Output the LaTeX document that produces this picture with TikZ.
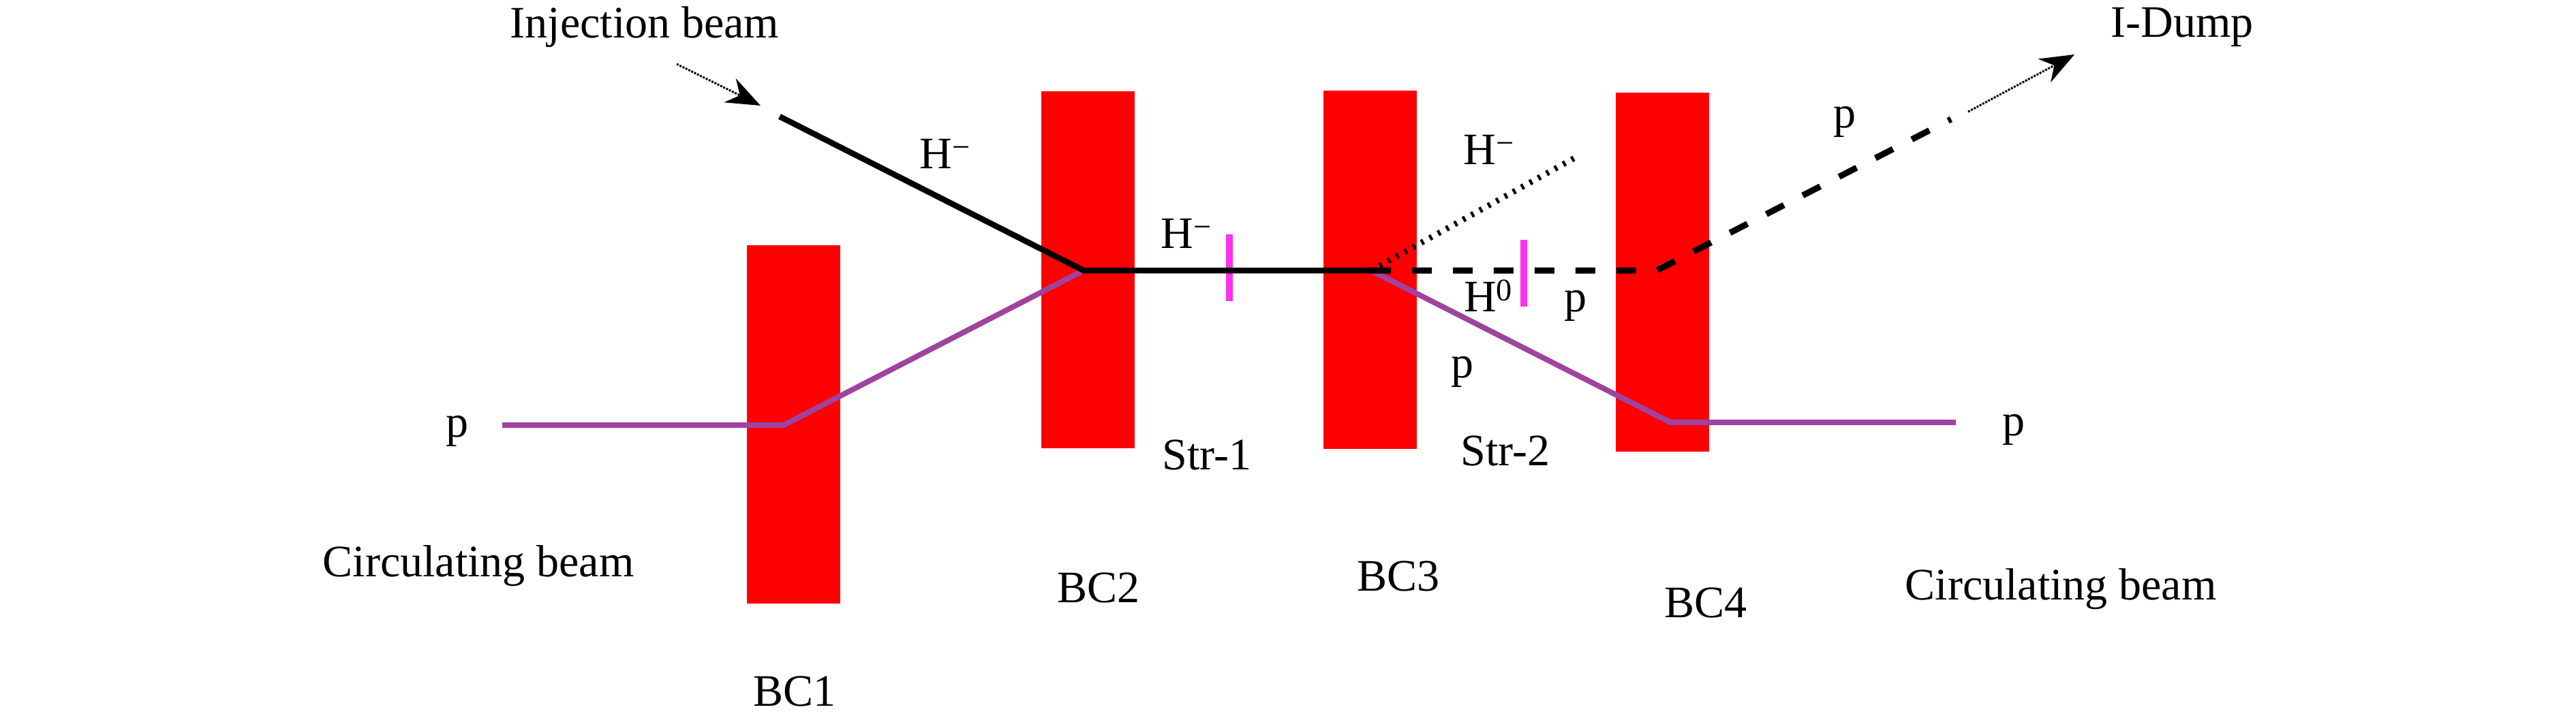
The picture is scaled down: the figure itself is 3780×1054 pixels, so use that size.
\documentclass[tikz,border=0pt]{standalone}
\usepackage{fontspec}
\setmainfont{Liberation Serif}
\usetikzlibrary{arrows.meta,positioning}
\definecolor{beampurple}{HTML}{A0429F}
\definecolor{foilpink}{HTML}{FF30F0}

\begin{document}
\begin{tikzpicture}[x=0.02cm, y=-0.02cm,
    magnet/.style={rectangle, fill=red, inner sep=0pt, minimum width=2.74cm},
    foil/.style={rectangle, fill=foilpink, inner sep=0pt, minimum width=0.2cm, minimum height=1.95cm},
    label/.style={font=\fontsize{37.6}{45}\selectfont, inner sep=0pt},
    hminus/.style={line width=0.17cm, black, line join=round},
    proton/.style={line width=0.16cm, beampurple, line join=round},
    neutral/.style={line width=0.18cm, black, dash pattern=on 0.58cm off 0.62cm},
    stripped/.style={line width=0.17cm, black, dash pattern=on 0.08cm off 0.2cm},
    pointer/.style={-{Stealth[length=1.0cm, width=0.78cm]}, line width=0.06cm, densely dotted}]

    \useasboundingbox (0,0) rectangle (3780,1054);

    \node[magnet, minimum height=10.52cm] (bc1) at (1164,623) {};
    \node[magnet, minimum height=10.5cm] (bc2) at (1596.5,396) {};
    \node[magnet, minimum height=10.52cm] (bc3) at (2010,396) {};
    \node[magnet, minimum height=10.54cm] (bc4) at (2439,399.5) {};

    \coordinate (inj) at (1144,171);
    \coordinate (merge) at (1590,397);
    \coordinate (strip) at (2012,397);
    \coordinate (leftin) at (737,624);
    \coordinate (leftkink) at (1150,624);
    \coordinate (rightkink) at (2451,620);
    \coordinate (rightout) at (2870,620);
    \coordinate (dumpkink) at (2431,397);
    \coordinate (dumpend) at (2863,175);
    \coordinate (unstrip) at (2312,231);

    \node[foil] (str1) at (1804,393) {};
    \node[foil] (str2) at (2236,401) {};

    \draw[proton] (leftin) -- (leftkink) -- (merge);
    \draw[proton] (strip) -- (rightkink) -- (rightout);
    \draw[hminus] (inj) -- (merge) -- (strip);
    \draw[neutral] (strip) -- (dumpkink) -- (dumpend);
    \draw[stripped] (strip) -- (unstrip);

    % labels
    \node[label] (injlabel) at (946,40) {Injection beam};
    \node[label] (dumplabel) at (3202,40) {I-Dump};
    \coordinate (injtail) at (993,94);
    \coordinate (injhead) at (1116,155);
    \coordinate (dumptail) at (2888,164);
    \coordinate (dumphead) at (3044,80);
    \draw[pointer] (injtail) -- (injhead);
    \draw[pointer] (dumptail) -- (dumphead);

    \node[label] (hm1) at (1387,226) {H\textsuperscript{−}};
    \node[label] (hm2) at (1741,343) {H\textsuperscript{−}};
    \node[label] (hm3) at (2185,220) {H\textsuperscript{−}};
    \node[label] (h0) at (2184,434) {H\textsuperscript{0}};
    \node[label] (p1) at (671,633) {p};
    \node[label] (p2) at (2146,546) {p};
    \node[label] (p3) at (2312,449) {p};
    \node[label] (p4) at (2707,179) {p};
    \node[label] (p5) at (2955,631) {p};
    \node[label] (strlabel1) at (1771,668) {Str-1};
    \node[label] (strlabel2) at (2209,662) {Str-2};
    \node[label] (bclabel1) at (1166,1015) {BC1};
    \node[label] (bclabel2) at (1612,863) {BC2};
    \node[label] (bclabel3) at (2052,846) {BC3};
    \node[label] (bclabel4) at (2503,885) {BC4};
    \node[label] (circleft) at (702,831) {Circulating beam};
    \node[label] (circright) at (3024,865) {Circulating beam};

\end{tikzpicture}
\end{document}
